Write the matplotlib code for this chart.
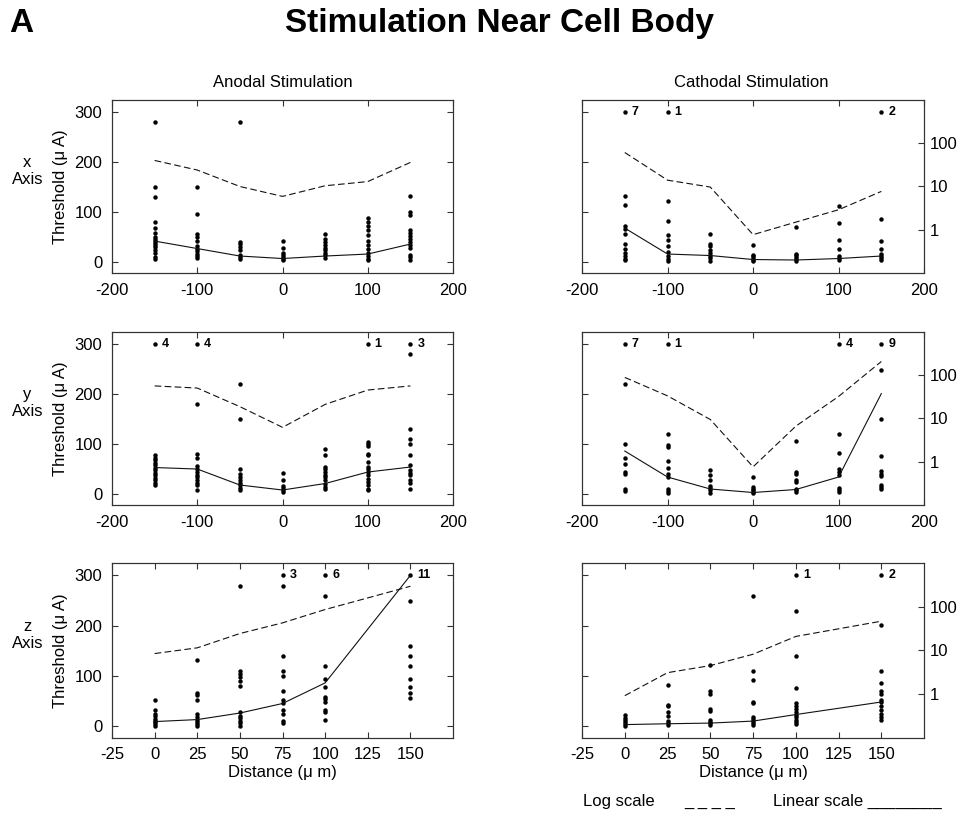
import matplotlib
matplotlib.use("Agg")
import matplotlib.pyplot as plt
from matplotlib.ticker import NullLocator

plt.rcParams["font.family"] = ["Liberation Sans", "DejaVu Sans"]
plt.rcParams["axes.unicode_minus"] = False

# ---------------------------------------------------------------------------
# Data (thresholds in uA)
# ---------------------------------------------------------------------------
X_LAT = [-150, -100, -50, 0, 50, 100, 150]
X_Z = [0, 25, 50, 75, 100, 150]
CAP = 300  # thresholds >= 300 are drawn at 300 with a count label

# anodal, x axis
ANX_PTS = [
    [280, 150, 130, 80, 68, 58, 50, 46, 42, 38, 34, 30, 24, 17, 10, 5],
    [150, 95, 56, 49, 41, 31, 25, 21, 16, 11, 7],
    [280, 40, 35, 29, 24, 13, 9, 5],
    [42, 28, 17, 13, 9, 6, 3],
    [55, 46, 39, 33, 28, 23, 17, 13, 7],
    [87, 79, 71, 63, 54, 41, 33, 26, 17, 11, 6, 3],
    [131, 100, 93, 63, 57, 51, 46, 39, 33, 27, 14, 9, 4],
]
ANX_OVER = [0, 0, 0, 0, 0, 0, 0]
ANX_LIN = [41, 26, 11, 6, 11, 15, 35]
ANX_LOG = [40, 24, 10, 5.9, 10.4, 13, 36]

# cathodal, x axis
CAX_PTS = [
    [131, 113, 71, 66, 55, 36, 25, 17, 11, 6, 3],
    [121, 81, 54, 44, 31, 19, 11, 5, 2],
    [55, 36, 31, 23, 17, 12, 7, 2],
    [34, 14, 11, 7, 4, 1],
    [69, 16, 13, 9, 5, 2],
    [111, 78, 43, 25, 12, 7, 3],
    [86, 41, 26, 16, 12, 7, 3],
]
CAX_OVER = [7, 1, 0, 0, 0, 0, 2]
CAX_LIN = [67, 15, 12, 4, 3, 6, 11]
CAX_LOG = [61, 14, 9.7, 0.77, 1.5, 2.9, 7.7]

# anodal, y axis
ANY_PTS = [
    [77, 72, 67, 61, 57, 52, 47, 42, 37, 32, 27, 22, 17],
    [180, 80, 72, 55, 49, 43, 38, 33, 28, 22, 17, 8],
    [220, 150, 50, 39, 33, 28, 22, 17, 12, 8],
    [42, 27, 15, 11, 7, 3],
    [90, 77, 53, 49, 43, 38, 33, 27, 20, 13, 9],
    [103, 99, 95, 80, 77, 63, 53, 49, 43, 38, 30, 23, 17, 10, 7],
    [279, 130, 110, 99, 77, 57, 47, 41, 37, 27, 22, 10],
]
ANY_OVER = [4, 4, 0, 0, 0, 1, 3]
ANY_LIN = [52, 49, 17, 7, 20, 43, 53]
ANY_LOG = [56, 50, 18.6, 6.2, 21, 45, 56]

# cathodal, y axis
CAY_PTS = [
    [219, 99, 72, 60, 43, 40, 10, 5],
    [120, 97, 93, 65, 51, 40, 33, 10, 5, 1],
    [47, 37, 28, 15, 11, 7, 2],
    [33, 13, 10, 7, 3, 1],
    [105, 43, 39, 28, 23, 10, 7, 3],
    [120, 81, 50, 43, 37, 12, 8, 3],
    [248, 150, 75, 45, 39, 35, 17, 13, 9],
]
CAY_OVER = [7, 1, 0, 0, 0, 4, 9]
CAY_LIN = [85, 33, 9, 2, 8, 33, 200]
CAY_LOG = [88, 33, 9.4, 0.76, 6.6, 32, 205]

# anodal, z axis
ANZ_PTS = [
    [51, 33, 25, 20, 15, 11, 8, 5, 1],
    [131, 66, 61, 51, 25, 18, 13, 9, 5, 1],
    [279, 110, 104, 98, 89, 79, 28, 21, 16, 11, 6, 1],
    [279, 139, 110, 99, 69, 51, 45, 33, 25, 11, 6],
    [259, 120, 93, 78, 58, 53, 48, 33, 28, 13],
    [249, 160, 139, 120, 93, 78, 66, 55],
]
ANZ_OVER = [0, 0, 0, 3, 6, 11]
ANZ_LIN = [9, 13, 26, 45, 86, 300]
ANZ_LOG = [8.5, 11.5, 24.5, 43, 87, 297]

# cathodal, z axis
CAZ_PTS = [
    [23, 17, 13, 9, 5, 1],
    [81, 43, 41, 28, 21, 11, 7, 3],
    [121, 69, 63, 35, 31, 13, 9, 6, 3],
    [259, 110, 91, 48, 45, 18, 15, 10, 6, 3],
    [230, 139, 76, 45, 40, 35, 28, 23, 18, 13, 8, 5],
    [201, 110, 86, 69, 63, 52, 48, 41, 33, 25, 18, 13],
]
CAZ_OVER = [0, 0, 0, 0, 1, 2]
CAZ_LIN = [3, 4.7, 6, 10, 23, 48]
CAZ_LOG = [0.92, 3.1, 4.5, 8.2, 21, 47]

XTICKS_LAT = [-200, -100, 0, 100, 200]
XTICKS_Z = [-25, 0, 25, 50, 75, 100, 125, 150]

# ---------------------------------------------------------------------------
# Layout
# ---------------------------------------------------------------------------
_INK = "#111111"
_SPINE = "#333333"

COL_X = [(0.1167, 0.3552), (0.6063, 0.3563)]
ROW_Y = [(0.6675, 0.2107), (0.3849, 0.2111), (0.1015, 0.2124)]
ROW_LABELS = ["x\nAxis", "y\nAxis", "z\nAxis"]
ROW_LABEL_Y = [0.7917, 0.5091, 0.2266]

panels = [
    (0, 0, X_LAT, ANX_PTS, ANX_OVER, ANX_LIN, ANX_LOG),
    (0, 1, X_LAT, CAX_PTS, CAX_OVER, CAX_LIN, CAX_LOG),
    (1, 0, X_LAT, ANY_PTS, ANY_OVER, ANY_LIN, ANY_LOG),
    (1, 1, X_LAT, CAY_PTS, CAY_OVER, CAY_LIN, CAY_LOG),
    (2, 0, X_Z, ANZ_PTS, ANZ_OVER, ANZ_LIN, ANZ_LOG),
    (2, 1, X_Z, CAZ_PTS, CAZ_OVER, CAZ_LIN, CAZ_LOG),
]

fig = plt.figure(figsize=(9.6, 8.21), dpi=100)

for row, col, xs, pts, over, lin, logm in panels:
    left, width = COL_X[col]
    bottom, height = ROW_Y[row]
    ax = fig.add_axes([left, bottom, width, height])
    ax2 = ax.twinx()

    # individual thresholds
    for x, vals, n in zip(xs, pts, over):
        ax.plot([x] * len(vals), vals, "o", ms=3.2, mew=0, color="k")
        if n:
            ax.plot(x, CAP, "o", ms=3.2, mew=0, color="k")
            ax.annotate(str(n), (x, CAP), xytext=(5, 0), textcoords="offset points",
                        va="center", ha="left", fontsize=9, fontweight="bold")

    ax.plot(xs, lin, "-", color=_INK, lw=0.8)
    ax2.plot(xs, logm, color=_INK, lw=0.8, dashes=(6, 3))

    # linear axis
    ax.set_ylim(-23, 324)
    ax.set_yticks([0, 100, 200, 300])
    if row == 2:
        ax.set_xlim(-25, 175)
        ax.set_xticks(XTICKS_Z)
        ax.set_xlabel("Distance (\u03bc m)", fontsize=12, labelpad=2)
    else:
        ax.set_xlim(-200, 200)
        ax.set_xticks(XTICKS_LAT)
    ax.tick_params(direction="in", length=4, top=True, right=(col == 0),
                   labelsize=12, pad=7, color=_SPINE)
    if col == 1:
        ax.tick_params(labelleft=False)

    # log axis
    ax2.set_yscale("log")
    ax2.set_ylim(0.1, 1000)
    ax2.yaxis.set_minor_locator(NullLocator())
    if col == 0:
        ax2.set_yticks([])
    else:
        ax2.set_yticks([1, 10, 100])
        ax2.set_yticklabels(["1", "10", "100"])
        ax2.tick_params(direction="in", length=4, labelsize=12, pad=4, color=_SPINE)

    for a in (ax, ax2):
        for s in a.spines.values():
            s.set_color(_SPINE)
            s.set_linewidth(0.8)

    if col == 0:
        yc = bottom + height / 2
        fig.text(0.0625, yc, "Threshold (\u03bc A)", rotation=90,
                 ha="center", va="center", fontsize=12)
        fig.text(0.0286, ROW_LABEL_Y[row], ROW_LABELS[row],
                 ha="center", va="center", fontsize=12, linespacing=1.15)

# titles
fig.text(0.0094, 0.9614, "A", fontsize=24, fontweight="bold", ha="left", va="baseline")
fig.text(0.520, 0.9614, "Stimulation Near Cell Body", fontsize=24,
         fontweight="bold", ha="center", va="baseline")
fig.text(0.2943, 0.8935, "Anodal Stimulation", fontsize=12, ha="center", va="baseline")
fig.text(0.7823, 0.8935, "Cathodal Stimulation", fontsize=12, ha="center", va="baseline")

# hand-made legend
fig.text(0.6073, 0.0183, "Log scale", fontsize=12, ha="left", va="baseline")
fig.text(0.7125, 0.0183, "_ _ _ _", fontsize=12, ha="left", va="baseline")
fig.text(0.8052, 0.0183, "Linear scale ________", fontsize=12, ha="left", va="baseline")

fig.savefig("out.png", dpi=100)
plt.close(fig)
